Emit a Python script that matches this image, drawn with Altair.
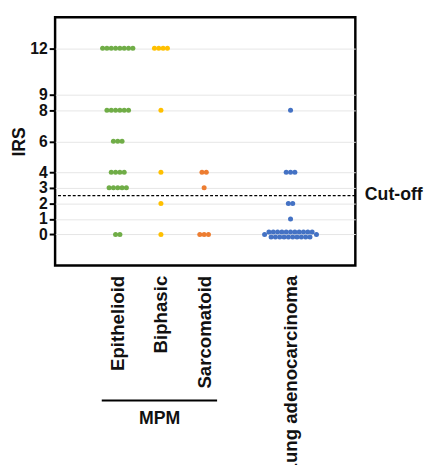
import math
import altair as alt
import pandas as pd

# ---- data ----
groups = ["Epithelioid", "Biphasic", "Sarcomatoid", "Lung adenocarcinoma"]
group_pos = [1, 2, 3, 5]
colors = ["#70ad47", "#ffc000", "#ed7d31", "#4472c4"]

epithelioid_irs = [12, 8, 6, 4, 3, 0]
epithelioid_n = [8, 6, 3, 4, 5, 2]
biphasic_irs = [12, 8, 4, 2, 0]
biphasic_n = [4, 1, 1, 1, 1]
sarcomatoid_irs = [4, 3, 0]
sarcomatoid_n = [2, 1, 3]
lung_irs = [8, 4, 2, 1, 0]
lung_n = [1, 3, 2, 1, 23]

y_ticks = [0, 1, 2, 3, 4, 6, 8, 9, 12]
cutoff_value = 2.5
cutoff_label = "Cut-off"
bracket_label = "MPM"

series = [
    (epithelioid_irs, epithelioid_n),
    (biphasic_irs, biphasic_n),
    (sarcomatoid_irs, sarcomatoid_n),
    (lung_irs, lung_n),
]

# ---- beeswarm layout ----
STEP = 0.1   # x units between neighbouring dots
DY = 0.16    # y units for staggered rows


def layout(n):
    if n <= 12:
        return [((i - (n - 1) / 2) * STEP, 0.0) for i in range(n)]
    remain = n - 2
    top = math.ceil(remain / 2)
    bottom = remain - top
    pts = [((i - (top - 1) / 2) * STEP, DY) for i in range(top)]
    pts += [((i - (bottom - 1) / 2) * STEP, -DY) for i in range(bottom)]
    end = (top + 1) / 2 * STEP
    pts += [(-end, 0.0), (end, 0.0)]
    return pts


rows = []
for g, p, (vals, counts) in zip(groups, group_pos, series):
    for v, n in zip(vals, counts):
        for dx, dy in layout(n):
            rows.append({"group": g, "x": p + dx, "y": v + dy})
points = pd.DataFrame(rows)

x_scale = alt.Scale(domain=[-0.45, 6.5], nice=False, zero=False)
y_scale = alt.Scale(domain=[-2, 14], nice=False, zero=False)

label_expr = " : ".join(
    f"datum.value == {p} ? '{g}'" for g, p in zip(groups, group_pos)
) + " : ''"

base_x = alt.X(
    "x:Q",
    scale=x_scale,
    axis=alt.Axis(
        values=group_pos,
        tickCount=20,
        labelExpr=label_expr,
        labelAngle=270,
        ticks=False,
        domain=False,
        grid=False,
        labelPadding=10,
        labelFontSize=19,
        labelFontWeight="bold",
        labelColor="#111111",
        labelOverlap=False,
        labelFlush=False,
        labelLimit=0,
        title=None,
    ),
)
base_y = alt.Y(
    "y:Q",
    scale=y_scale,
    axis=alt.Axis(
        values=y_ticks,
        tickCount=30,
        format="d",
        title="IRS",
        titleFontSize=18,
        titleFontWeight="bold",
        titleColor="#111111",
        titlePadding=1,
        labelFontSize=16,
        labelFontWeight="bold",
        labelColor="#111111",
        labelPadding=2,
        labelOverlap=False,
        tickSize=6,
        tickWidth=2,
        tickColor="black",
        domain=False,
        grid=True,
        gridColor="#e6e6e6",
        gridWidth=1,
    ),
)

dots = alt.Chart(points).mark_circle(size=26, opacity=1).encode(
    x=base_x,
    y=base_y,
    color=alt.Color(
        "group:N",
        scale=alt.Scale(domain=groups, range=colors),
        legend=None,
    ),
)

cut_df = pd.DataFrame({"y": [cutoff_value], "x": [6.72], "label": [cutoff_label]})
cut_line = alt.Chart(cut_df).mark_rule(
    color="black", strokeWidth=1.5, strokeDash=[3, 2]
).encode(y=alt.Y("y:Q", scale=y_scale))
cut_text = alt.Chart(cut_df).mark_text(
    align="left", baseline="middle", fontSize=18, fontWeight="bold",
    color="#111111", clip=False, dy=-1,
).encode(x=alt.X("x:Q", scale=x_scale), y=alt.Y("y:Q", scale=y_scale), text="label:N")

bracket_df = pd.DataFrame({"x": [0.63], "x2": [3.3], "y": [-10.7],
                           "tx": [1.97], "ty": [-11.9], "label": [bracket_label]})
bracket = alt.Chart(bracket_df).mark_rule(
    color="black", strokeWidth=2, clip=False
).encode(x=alt.X("x:Q", scale=x_scale), x2="x2:Q", y=alt.Y("y:Q", scale=y_scale))
bracket_text = alt.Chart(bracket_df).mark_text(
    align="center", baseline="middle", fontSize=18, fontWeight="bold",
    color="#111111", clip=False,
).encode(x=alt.X("tx:Q", scale=x_scale), y=alt.Y("ty:Q", scale=y_scale), text="label:N")

chart = (
    alt.layer(dots, cut_line, cut_text, bracket, bracket_text)
    .properties(
        width=306,
        height=253,
        autosize=alt.AutoSizeParams(type="none"),
        padding={"left": 48, "top": 5, "right": 71, "bottom": 199},
    )
    .configure(font="Liberation Sans")
    .configure_view(stroke="black", strokeWidth=2.5)
)

chart.save("out.html", embed_options={"renderer": "svg", "actions": False})
